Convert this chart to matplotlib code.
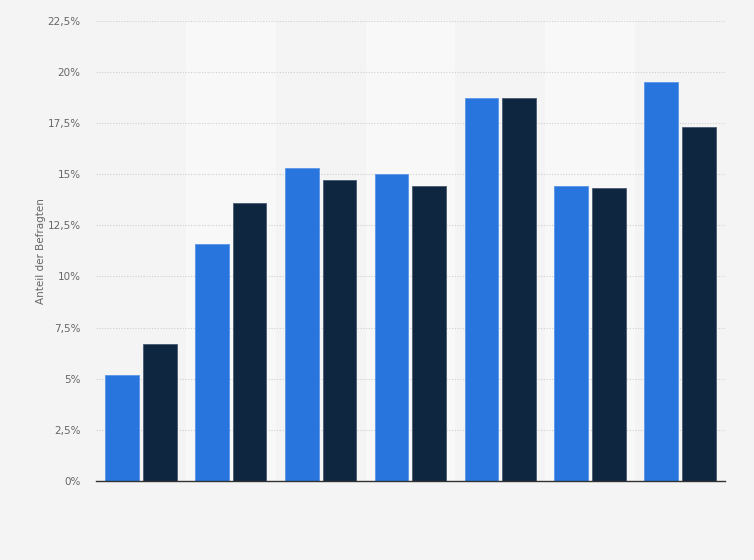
"""Grouped bar chart: Anteil der Befragten, two series over seven groups."""

import matplotlib.pyplot as plt
import numpy as np
from matplotlib.ticker import FuncFormatter

groups = ["1", "2", "3", "4", "5", "6", "7"]
series_a = [5.2, 11.6, 15.3, 15.0, 18.7, 14.4, 19.5]
series_b = [6.7, 13.6, 14.7, 14.4, 18.7, 14.3, 17.3]
y_ticks = [0, 2.5, 5, 7.5, 10, 12.5, 15, 17.5, 20, 22.5]

BLUE = "#2876dd"
DARK = "#0f2640"
BG = "#f4f4f4"
BAND = "#f8f8f8"


def pct_de(v, _pos):
    txt = f"{v:.1f}".rstrip("0").rstrip(".")
    return txt.replace(".", ",") + "%"


def main() -> None:
    fig = plt.figure(figsize=(7.54, 5.6), dpi=100, facecolor=BG)
    ax = fig.add_axes([0.1273, 0.1411, 0.8342, 0.8220])
    ax.set_facecolor(BG)

    x = np.arange(len(groups))
    width = 0.375
    off = 0.21

    for i in x:
        if i % 2 == 1:
            ax.axvspan(i - 0.5, i + 0.5, color=BAND, zorder=0, lw=0)

    ax.bar(x - off, series_a, width=width, color=BLUE, edgecolor="#5a95e6",
           linewidth=0.6, zorder=3)
    ax.bar(x + off, series_b, width=width, color=DARK, edgecolor="#4a5a70",
           linewidth=0.6, zorder=3)

    ax.set_xlim(-0.5, len(groups) - 0.5)
    ax.set_ylim(0, 22.5)
    ax.set_yticks(y_ticks)
    ax.yaxis.set_major_formatter(FuncFormatter(pct_de))
    ax.set_xticks([])

    ax.grid(axis="y", color="#cfcfcf", linestyle=(0, (1, 1.5)), linewidth=0.8,
            zorder=1)
    ax.set_axisbelow(True)

    for side in ("top", "right", "left"):
        ax.spines[side].set_visible(False)
    ax.spines["bottom"].set_color("#333333")
    ax.spines["bottom"].set_linewidth(1.0)
    ax.spines["bottom"].set_zorder(4)

    ax.tick_params(axis="y", length=0, pad=11, labelsize=7.5,
                   labelcolor="#666666")
    ax.set_ylabel("Anteil der Befragten", fontsize=7.5, color="#666666",
                  labelpad=1)

    fig.savefig("out.png", dpi=100, facecolor=BG)


if __name__ == "__main__":
    main()
